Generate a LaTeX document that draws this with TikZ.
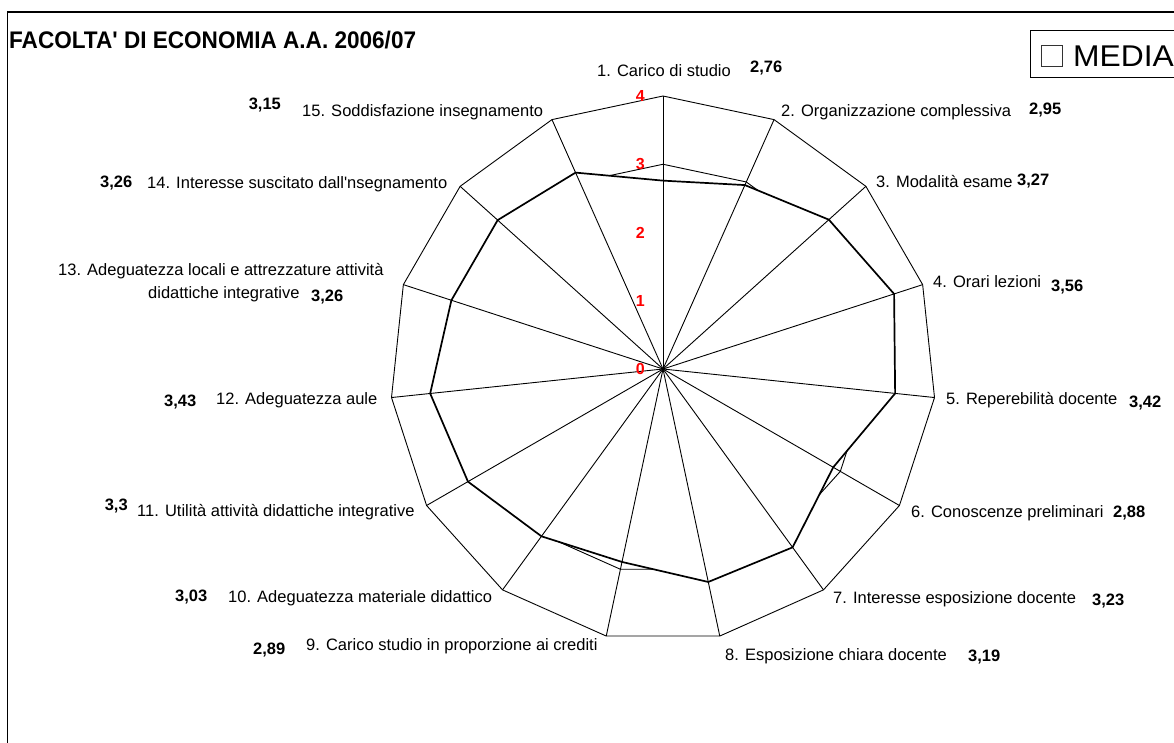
\documentclass[tikz,border=0pt]{standalone}
\usepackage{graphicx}
\usepackage{fontspec}
\setmainfont{Liberation Sans}
\tikzset{
 lbl/.style={anchor=base west, inner sep=0pt, font=\fontsize{16.5}{18}\selectfont},
 num/.style={anchor=base west, inner sep=0pt, font=\fontsize{16.5}{18}\selectfont\bfseries},
 axnum/.style={anchor=east, inner sep=0pt, text=red, font=\fontsize{16}{18}\selectfont\bfseries},
 ring/.style={draw=black, line width=0.9pt, line join=miter},
 spoke/.style={draw=black, line width=0.9pt},
 dataline/.style={draw=black, line width=1.7pt, fill=white, line join=miter},
}
\begin{document}
\begin{tikzpicture}[x=1pt,y=-1pt]
\useasboundingbox (0,0) rectangle (1174,742);
\clip (0,0) rectangle (1174,742);
\fill[white] (0,0) rectangle (1174,742);
% frame
\draw[line width=1.2pt] (1180,12) -- (7.5,12) -- (7.5,750);
% title
\node[anchor=base west, inner sep=0pt, font=\fontsize{24}{26}\selectfont\bfseries] (title) at (9,48)
  {\scalebox{0.94}[1]{FACOLTA\textquotesingle{} DI ECONOMIA A.A. 2006/07}};
% legend
\draw[line width=1pt] (1030,30) rectangle (1185,77);
\draw[black!80, line width=1pt] (1041,45) rectangle (1062,66);
\node[anchor=base west, inner sep=0pt, font=\fontsize{30}{32}\selectfont] (media) at (1073,66) {\scalebox{1.06}[1]{MEDIA}};
% radar geometry
\coordinate (O) at (663,369);
\begin{scope}[shift={(663,369)}]
 \foreach \k in {0,...,14} \coordinate (v\k) at ({24*\k-90}:273);
 \foreach \v [count=\k from 0] in {2.76,2.95,3.27,3.56,3.42,2.88,3.23,3.19,2.89,3.03,3.3,3.43,3.26,3.26,3.15}
   \coordinate (d\k) at ({24*\k-90}:{\v*68.25});
 \foreach \r in {1,2,3}
   \draw[ring] (-90:{\r*68.25}) \foreach \k in {1,...,14}{ -- ({24*\k-90}:{\r*68.25})} -- cycle;
\end{scope}
\draw[ring] (v0) \foreach \k in {1,...,14}{ -- (v\k)} -- cycle;
\draw[dataline] (d0) \foreach \k in {1,...,14}{ -- (d\k)} -- cycle;
\foreach \k in {0,...,14} \draw[spoke] (O) -- (v\k);
% axis values
\foreach \k in {0,...,4} \node[axnum] (ax\k) at (645,{369-68.25*\k}) {\k};
% category labels
\node[lbl] (l1) at (597,76) {1. Carico di studio};
\node[num] (n1) at (750,72.7) {2,76};
\node[lbl] (l2) at (781,116) {2. Organizzazione complessiva};
\node[num] (n2) at (1029,114) {2,95};
\node[lbl] (l3) at (876,187) {3. Modalità esame};
\node[num] (n3) at (1017,185) {3,27};
\node[lbl] (l4) at (933,287) {4. Orari lezioni};
\node[num] (n4) at (1051,291) {3,56};
\node[lbl] (l5) at (946,404) {5. Reperebilità docente};
\node[num] (n5) at (1129,407) {3,42};
\node[lbl] (l6) at (911,517) {6. Conoscenze preliminari};
\node[num] (n6) at (1113,517) {2,88};
\node[lbl] (l7) at (833,603) {7. Interesse esposizione docente};
\node[num] (n7) at (1092,605) {3,23};
\node[lbl] (l8) at (725,660) {8. Esposizione chiara docente};
\node[num] (n8) at (968,661) {3,19};
\node[lbl] (l9) at (306,650.5) {9. Carico studio in proporzione ai crediti};
\node[num] (n9) at (253,654) {2,89};
\node[lbl] (l10) at (228,602.6) {10. Adeguatezza materiale didattico};
\node[num] (n10) at (175,601.5) {3,03};
\node[lbl] (l11) at (137,516.5) {11. Utilità attività didattiche integrative};
\node[num] (n11) at (104.6,510.8) {3,3};
\node[lbl] (l12) at (216,404.4) {12. Adeguatezza aule};
\node[num] (n12) at (164,406.7) {3,43};
\node[lbl] (l13a) at (58,275.4) {13. Adeguatezza locali e attrezzature attività};
\node[lbl] (l13b) at (148,298.4) {didattiche integrative};
\node[num] (n13) at (311,301.5) {3,26};
\node[lbl] (l14) at (147,188.6) {14. Interesse suscitato dall\textquotesingle{}nsegnamento};
\node[num] (n14) at (100,187.4) {3,26};
\node[lbl] (l15) at (302,116.6) {15. Soddisfazione insegnamento};
\node[num] (n15) at (248.6,109.7) {3,15};
\end{tikzpicture}
\end{document}
